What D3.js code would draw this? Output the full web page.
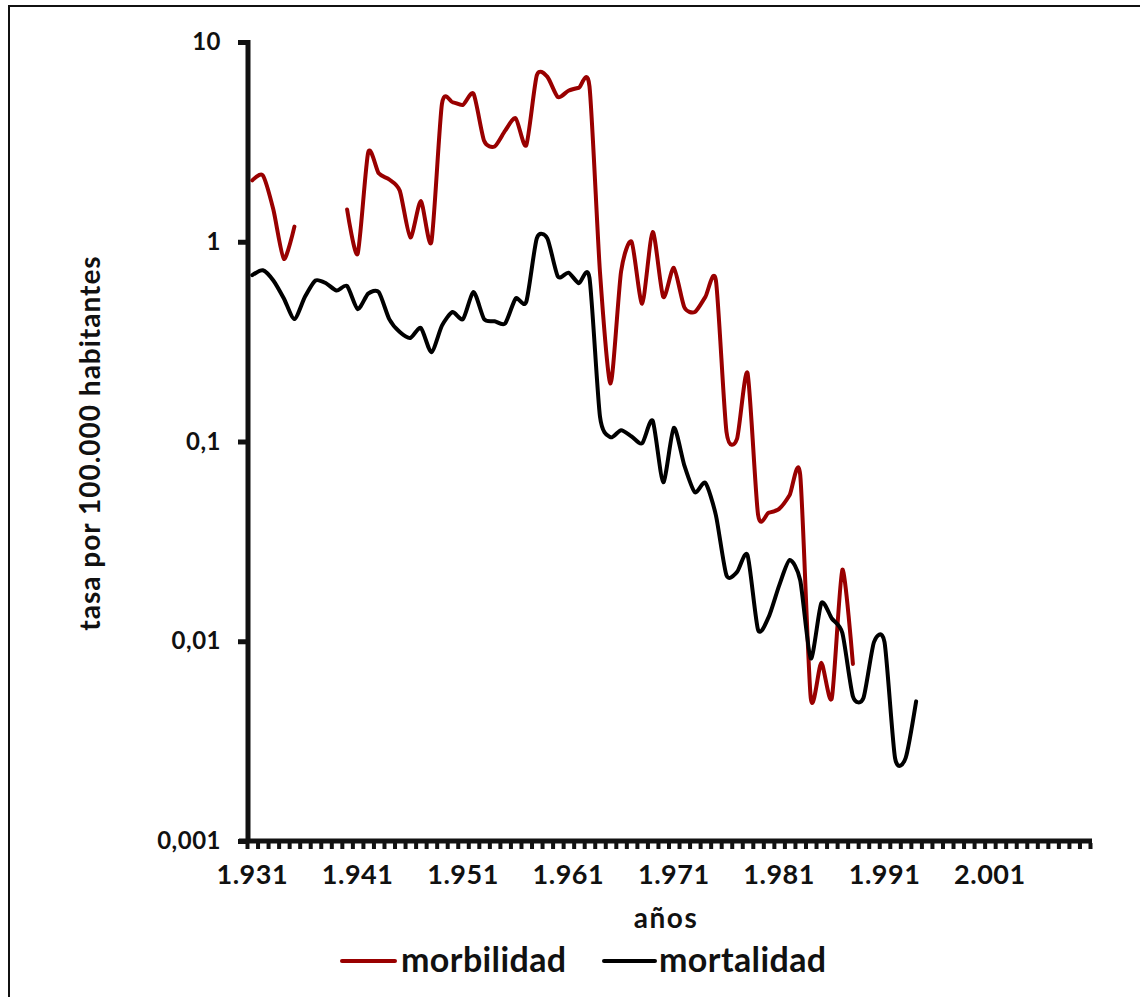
<!DOCTYPE html>
<html>
<head>
<meta charset="utf-8">
<script src="https://cdn.jsdelivr.net/npm/d3@7"></script>
<style>
  html, body { margin: 0; padding: 0; background: #fff; }
  svg { display: block; font-family: "Lato", "DejaVu Sans", sans-serif; font-weight: 700; }
</style>
</head>
<body>
<svg id="chart" width="1140" height="997"></svg>
<script>
// ---- data ----
const years = [1931,1932,1933,1934,1935,1936,1937,1938,1939,1940,
               1941,1942,1943,1944,1945,1946,1947,1948,1949,1950,
               1951,1952,1953,1954,1955,1956,1957,1958,1959,1960,
               1961,1962,1963,1964,1965,1966,1967,1968,1969,1970,
               1971,1972,1973,1974,1975,1976,1977,1978,1979,1980,
               1981,1982,1983,1984,1985,1986,1987,1988,1989,1990,
               1991,1992,1993,1994];
const morbilidad = [2.03,2.15,1.45,0.82,1.19,null,null,null,null,1.45,
                    0.87,2.8,2.2,2.05,1.8,1.05,1.6,1.0,4.9,5.0,
                    4.85,5.5,3.2,3.0,3.6,4.15,3.04,6.8,6.7,5.3,
                    5.7,5.9,6.0,0.7,0.195,0.71,1.0,0.49,1.12,0.53,
                    0.74,0.47,0.445,0.53,0.64,0.112,0.103,0.22,0.043,0.044,
                    0.046,0.054,0.068,0.0052,0.0078,0.0052,0.0228,0.0077,null,null,
                    null,null,null,null];
const mortalidad = [0.68,0.72,0.64,0.52,0.41,0.53,0.64,0.62,0.57,0.60,
                    0.46,0.55,0.56,0.41,0.353,0.33,0.37,0.28,0.38,0.445,
                    0.41,0.56,0.41,0.40,0.39,0.52,0.50,1.04,1.04,0.67,
                    0.70,0.62,0.66,0.133,0.105,0.114,0.106,0.098,0.127,0.0625,
                    0.117,0.076,0.0557,0.062,0.0427,0.0214,0.0222,0.027,0.0114,0.0132,
                    0.019,0.0255,0.0202,0.0082,0.0155,0.013,0.011,0.0053,0.0052,0.0099,
                    0.0099,0.0026,0.0026,0.005];
const axisFirstYear = 1931, axisLastYear = 2010;
const xTickYears = [1931,1941,1951,1961,1971,1981,1991,2001];
const xTickLabels = ["1.931","1.941","1.951","1.961","1.971","1.981","1.991","2.001"];
const yTickValues = [10,1,0.1,0.01,0.001];
const yTickLabels = ["10","1","0,1","0,01","0,001"];
const seriesNames = ["morbilidad","mortalidad"];
const seriesColors = ["#990000","#000000"];

// ---- layout ----
const svg = d3.select("#chart");
const plotLeft = 247, plotRight = 1090, plotTop = 42, plotBottom = 841;

// outer frame
svg.append("rect").attr("x",9).attr("y",6).attr("width",1200).attr("height",1200)
  .attr("fill","none").attr("stroke","#111").attr("stroke-width",2);

const categories = d3.range(axisFirstYear, axisLastYear + 1);
const x = d3.scaleBand().domain(categories).range([plotLeft, plotRight]).paddingInner(0).paddingOuter(0);
const xc = d => x(d) + x.bandwidth() / 2;
const y = d3.scaleLog().domain([0.001, 10]).range([plotBottom, plotTop]);

// x axis minor ticks (category boundaries)
const boundaries = categories.map(c => x(c)).concat([plotRight]);
svg.append("g").selectAll("rect").data(boundaries).join("rect")
  .attr("x", d => d - 1.5).attr("y", plotBottom + 2).attr("width", 4).attr("height", 6)
  .attr("fill", "#111");

// axis lines
svg.append("line").attr("x1", plotLeft - 8).attr("x2", plotRight + 2).attr("y1", plotBottom).attr("y2", plotBottom)
  .attr("stroke", "#111").attr("stroke-width", 5);
svg.append("line").attr("x1", plotLeft + 1).attr("x2", plotLeft + 1).attr("y1", plotTop - 2).attr("y2", plotBottom + 2)
  .attr("stroke", "#111").attr("stroke-width", 5);

// y axis
const yAxis = d3.axisLeft(y).tickValues(yTickValues)
  .tickFormat((d, i) => yTickLabels[i]).tickSize(9).tickPadding(17);
const gy = svg.append("g").attr("transform", `translate(${plotLeft},0)`).call(yAxis);
gy.select(".domain").remove();
gy.selectAll(".tick line").attr("stroke", "#111").attr("stroke-width", 5);
gy.selectAll(".tick text").attr("font-size", 24).attr("fill", "#111")
  .attr("font-family", "Lato, sans-serif").attr("font-weight", 700).attr("letter-spacing", 0.5);

// x labels
const xAxis = d3.axisBottom(x).tickValues(xTickYears)
  .tickFormat(d => xTickLabels[xTickYears.indexOf(d)]).tickSize(0).tickPadding(24);
const gx = svg.append("g").attr("transform", `translate(0,${plotBottom})`).call(xAxis);
gx.select(".domain").remove();
gx.selectAll(".tick text").attr("font-size", 27).attr("fill", "#111")
  .attr("font-family", "Lato, sans-serif").attr("font-weight", 700).attr("letter-spacing", 0.5);

// axis titles
svg.append("text").attr("x", 666).attr("y", 928).attr("text-anchor", "middle")
  .attr("font-size", 28).attr("letter-spacing", 1.5).attr("fill", "#111").text("años");
svg.append("text").attr("transform", "translate(100,443) rotate(-90)").attr("text-anchor", "middle")
  .attr("font-size", 28).attr("letter-spacing", 1).attr("fill", "#111").text("tasa por 100.000 habitantes");

// lines
const line = d3.line()
  .defined(d => d.v != null)
  .x(d => xc(d.year)).y(d => y(d.v))
  .curve(d3.curveCardinal.tension(0.3));
[morbilidad, mortalidad].forEach((vals, i) => {
  const data = years.map((yr, j) => ({ year: yr, v: vals[j] }));
  svg.append("path").datum(data).attr("d", line)
    .attr("fill", "none").attr("stroke", seriesColors[i]).attr("stroke-width", 4)
    .attr("stroke-linejoin", "round").attr("stroke-linecap", "round");
});

// legend
const legendItems = [{ x1: 342, x2: 395, tx: 401 }, { x1: 604, x2: 655, tx: 659 }];
legendItems.forEach((l, i) => {
  svg.append("line").attr("x1", l.x1).attr("x2", l.x2).attr("y1", 961).attr("y2", 961)
    .attr("stroke", seriesColors[i]).attr("stroke-width", 4).attr("stroke-linecap", "round");
  svg.append("text").attr("x", l.tx).attr("y", 972).attr("font-size", 34).attr("letter-spacing", 0.4)
    .attr("fill", "#111").text(seriesNames[i]);
});
</script>
</body>
</html>
